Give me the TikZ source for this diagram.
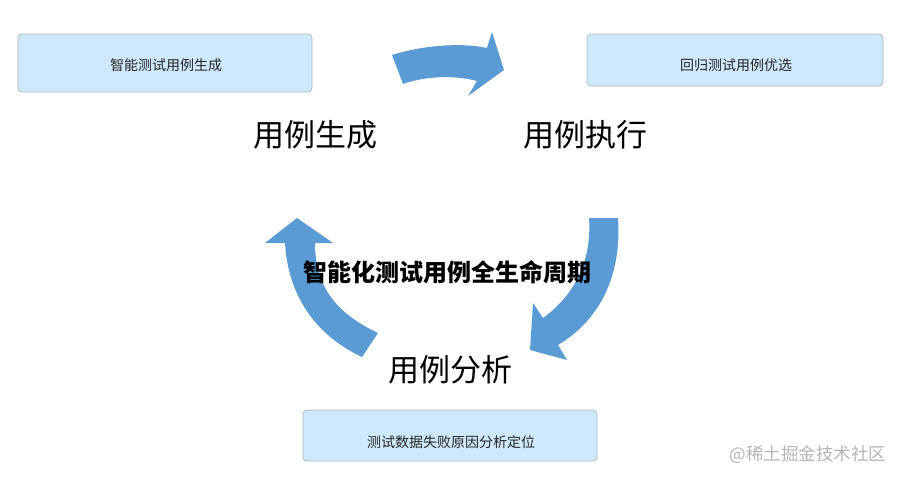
\documentclass[tikz,border=0pt]{standalone}
\usepackage{fontspec}
\newfontfamily\cjk{Noto Sans CJK SC}
\definecolor{arrowblue}{HTML}{5B9BD5}
\definecolor{boxfill}{HTML}{CDE9FB}
\definecolor{boxline}{HTML}{AEB8C2}
\definecolor{wmgray}{HTML}{B4B4B4}
\tikzset{
  stagebox/.style={draw=boxline, line width=0.8pt, fill=boxfill, rounded corners=4pt, inner sep=0pt},
  boxtext/.style={font=\cjk\fontsize{14}{14}\selectfont, inner sep=0pt, text=black!85},
  stagelabel/.style={font=\cjk\fontsize{31}{31}\selectfont, inner sep=0pt},
  cyclearrow/.style={fill=arrowblue, draw=none}
}
\begin{document}
\begin{tikzpicture}[x=1pt,y=-1pt]
\useasboundingbox (0,0) rectangle (905,482);
% boxes
\node[stagebox, minimum width=294pt, minimum height=58pt] (b1) at (165,63) {};
\node[boxtext] (t1) at (166,65.5) {智能测试用例生成};
\node[stagebox, minimum width=296pt, minimum height=52pt] (b2) at (735,60) {};
\node[boxtext] (t2) at (736,65) {回归测试用例优选};
\node[stagebox, minimum width=294pt, minimum height=51pt] (b3) at (450,435.5) {};
\node[boxtext] (t3) at (451,442) {测试数据失败原因分析定位};
% arrows
\fill[cyclearrow] (392,55) .. controls (420,46) and (460,42) .. (487,48)
  -- (492,32) -- (504,70) -- (468,96) -- (477,81)
  .. controls (455,75) and (425,76) .. (403,84) -- cycle;
\fill[cyclearrow] (589,218) -- (618,218)
  .. controls (622,275) and (600,320) .. (558,345)
  -- (567,360) -- (530,350) -- (533,303) -- (543,318)
  .. controls (575,295) and (592,260) .. (589,218) -- cycle;
\fill[cyclearrow] (297,218) -- (333,243) -- (315,243)
  .. controls (315,290) and (340,315) .. (378,333)
  -- (362,357)
  .. controls (315,335) and (288,295) .. (285,243)
  -- (265,243) -- cycle;
% labels
\node[stagelabel] (l1) at (315,135) {用例生成};
\node[stagelabel] (l2) at (585,135) {用例执行};
\node[stagelabel] (l3) at (450,370) {用例分析};
\node[font=\cjk\bfseries\fontsize{24}{24}\selectfont, inner sep=0pt] (center) at (447,272) {智能化测试用例全生命周期};
\node[font=\cjk\fontsize{17.5}{17.5}\selectfont, text=wmgray, inner sep=0pt] (wm) at (808,455) {@稀土掘金技术社区};
\end{tikzpicture}
\end{document}
